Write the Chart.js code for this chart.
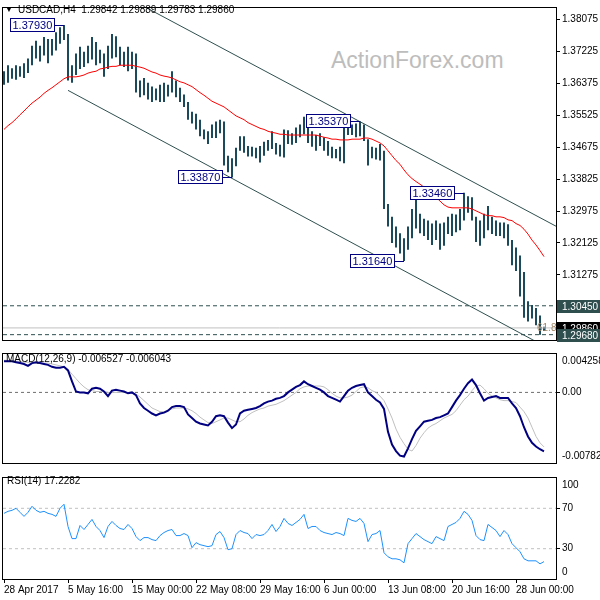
<!DOCTYPE html>
<html>
<head>
<meta charset="utf-8">
<script src="https://cdn.jsdelivr.net/npm/chart.js@4.4.1/dist/chart.umd.min.js"></script>
<style>
  body { margin: 0; background: #fff; width: 600px; height: 600px; overflow: hidden; position: relative; font-family: "Liberation Sans", Arial, sans-serif; }
  canvas { position: absolute; left: 0; z-index: 2; }
  .txt { position: absolute; font-size: 10px; line-height: 12px; color: #000; white-space: pre; z-index: 5; }
  #mark { position: absolute; left: 331px; top: 47px; font-size: 23px; color: #bdbdbd; z-index: 1; }
</style>
</head>
<body>
<div id="mark">ActionForex.com</div>
<canvas id="mainChart" width="600" height="348" style="top:0"></canvas>
<canvas id="macdChart" width="600" height="125" style="top:346px"></canvas>
<canvas id="rsiChart" width="600" height="130" style="top:470px"></canvas>
<div class="txt" style="left:5px;top:4px;font-size:8px">▼</div>
<div class="txt" style="left:18px;top:4px">USDCAD,H4  1.29842 1.29889 1.29783 1.29860</div>
<div class="txt" style="left:6px;top:353px">MACD(12,26,9) -0.006527 -0.006043</div>
<div class="txt" style="left:7px;top:475px">RSI(14) 17.2282</div>
<script>
// H4 bars (two per column)
const highs = [
  1.3670, 1.3686, 1.3678, 1.3686, 1.3683, 1.3691, 1.3704, 1.3738, 1.3751, 1.3738,
  1.3761, 1.3756, 1.3756, 1.3774, 1.3787, 1.3793, 1.3769, 1.3686, 1.3717, 1.3735,
  1.3722, 1.3738, 1.3761, 1.3748, 1.3727, 1.3717, 1.3738, 1.3769, 1.3763, 1.3735,
  1.3722, 1.3735, 1.3722, 1.3717, 1.3645, 1.3652, 1.3639, 1.3629, 1.3624, 1.3634,
  1.3639, 1.3634, 1.3670, 1.3645, 1.3626, 1.3608, 1.3588, 1.3562, 1.3557, 1.3541,
  1.3515, 1.3510, 1.3528, 1.3536, 1.3541, 1.3536, 1.3445, 1.3438, 1.3466, 1.3497,
  1.3497, 1.3471, 1.3469, 1.3466, 1.3471, 1.3482, 1.3487, 1.3510, 1.3479, 1.3474,
  1.3515, 1.3513, 1.3505, 1.3520, 1.3528, 1.3549, 1.3536, 1.3510, 1.3500, 1.3505,
  1.3494, 1.3484, 1.3469, 1.3463, 1.3469, 1.3523, 1.3533, 1.3528, 1.3531, 1.3537,
  1.3528, 1.3489, 1.3469, 1.3466, 1.3476, 1.3458, 1.3316, 1.3282, 1.3256, 1.3238,
  1.3225, 1.3256, 1.3303, 1.3329, 1.3290, 1.3277, 1.3272, 1.3264, 1.3272, 1.3264,
  1.3267, 1.3282, 1.3290, 1.3288, 1.3303, 1.3346, 1.3337, 1.3334, 1.3282, 1.3272,
  1.3290, 1.3311, 1.3282, 1.3272, 1.3267, 1.3267, 1.3262, 1.3220, 1.3200, 1.3179,
  1.3135, 1.3057, 1.3047, 1.3039, 1.3019, 1.2989
];
const lows = [
  1.3634, 1.3639, 1.3650, 1.3647, 1.3655, 1.3652, 1.3665, 1.3686, 1.3704, 1.3696,
  1.3712, 1.3691, 1.3712, 1.3725, 1.3743, 1.3753, 1.3645, 1.3639, 1.3660, 1.3676,
  1.3681, 1.3691, 1.3701, 1.3686, 1.3691, 1.3655, 1.3676, 1.3704, 1.3707, 1.3686,
  1.3681, 1.3670, 1.3676, 1.3613, 1.3601, 1.3606, 1.3595, 1.3588, 1.3593, 1.3588,
  1.3588, 1.3603, 1.3613, 1.3601, 1.3588, 1.3575, 1.3541, 1.3531, 1.3515, 1.3497,
  1.3489, 1.3476, 1.3492, 1.3492, 1.3505, 1.3419, 1.3401, 1.3387, 1.3417, 1.3458,
  1.3453, 1.3443, 1.3443, 1.3438, 1.3427, 1.3445, 1.3458, 1.3463, 1.3448, 1.3443,
  1.3440, 1.3476, 1.3474, 1.3479, 1.3494, 1.3502, 1.3479, 1.3469, 1.3458, 1.3471,
  1.3458, 1.3445, 1.3438, 1.3438, 1.3430, 1.3425, 1.3500, 1.3500, 1.3494, 1.3497,
  1.3484, 1.3419, 1.3438, 1.3435, 1.3432, 1.3303, 1.3256, 1.3212, 1.3200, 1.3184,
  1.3164, 1.3194, 1.3225, 1.3251, 1.3238, 1.3231, 1.3220, 1.3207, 1.3220, 1.3194,
  1.3205, 1.3236, 1.3231, 1.3241, 1.3246, 1.3272, 1.3293, 1.3272, 1.3215, 1.3205,
  1.3225, 1.3246, 1.3236, 1.3231, 1.3231, 1.3225, 1.3205, 1.3153, 1.3138, 1.3070,
  1.3013, 1.3003, 1.3011, 1.2993, 1.2968, 1.2978
];
// red moving average
const ma = [
  1.3515, 1.3525, 1.3533, 1.3543, 1.3554, 1.3564, 1.3575, 1.3585, 1.3593, 1.3601,
  1.3611, 1.3619, 1.3626, 1.3634, 1.3642, 1.3650, 1.3655, 1.3655, 1.3655, 1.3657,
  1.3660, 1.3665, 1.3668, 1.3670, 1.3676, 1.3678, 1.3681, 1.3683, 1.3683, 1.3686,
  1.3686, 1.3686, 1.3686, 1.3683, 1.3681, 1.3678, 1.3673, 1.3668, 1.3665, 1.3660,
  1.3657, 1.3655, 1.3652, 1.3647, 1.3642, 1.3639, 1.3634, 1.3629, 1.3621, 1.3613,
  1.3606, 1.3598, 1.3590, 1.3585, 1.3580, 1.3575, 1.3567, 1.3559, 1.3551, 1.3546,
  1.3541, 1.3533, 1.3528, 1.3523, 1.3518, 1.3515, 1.3510, 1.3507, 1.3505, 1.3502,
  1.3502, 1.3500, 1.3500, 1.3500, 1.3500, 1.3500, 1.3500, 1.3500, 1.3500, 1.3497,
  1.3494, 1.3492, 1.3489, 1.3489, 1.3487, 1.3487, 1.3487, 1.3489, 1.3489, 1.3489,
  1.3492, 1.3492, 1.3489, 1.3484, 1.3479, 1.3471, 1.3458, 1.3445, 1.3432, 1.3422,
  1.3407, 1.3394, 1.3384, 1.3376, 1.3369, 1.3361, 1.3355, 1.3345, 1.3334, 1.3324,
  1.3314, 1.3308, 1.3306, 1.3306, 1.3306, 1.3306, 1.3306, 1.3303, 1.3298, 1.3293,
  1.3288, 1.3285, 1.3285, 1.3282, 1.3282, 1.3280, 1.3274, 1.3272, 1.3264, 1.3259,
  1.3249, 1.3236, 1.3220, 1.3207, 1.3192, 1.3176
];
const macd = [
  0.00345, 0.00345, 0.00345, 0.00335, 0.00325, 0.00315, 0.00295, 0.00325, 0.00335, 0.00325,
  0.00315, 0.00305, 0.00284, 0.00274, 0.00274, 0.00284, 0.00244, 0.00122, 0.00010, 0,
  0, -0.00010, 0.00041, 0.00051, 0.00041, 0.00010, -0.00041, 0.00020, 0.00030, 0.00020,
  0.00010, -0.00010, 0, -0.00030, -0.00122, -0.00173, -0.00203, -0.00234, -0.00254, -0.00234,
  -0.00224, -0.00203, -0.00163, -0.00152, -0.00152, -0.00163, -0.00244, -0.00284, -0.00325, -0.00345,
  -0.00356, -0.00366, -0.00325, -0.00264, -0.00254, -0.00264, -0.00335, -0.00396, -0.00356, -0.00234,
  -0.00203, -0.00193, -0.00183, -0.00173, -0.00152, -0.00122, -0.00102, -0.00091, -0.00071, -0.00061,
  -0.00041, 0, 0.00030, 0.00061, 0.00081, 0.00122, 0.00091, 0.00071, 0.00051, 0.00030,
  0, -0.00041, -0.00061, -0.00081, -0.00102, -0.00041, 0.00020, 0.00051, 0.00071, 0.00081,
  0.00091, 0, -0.00041, -0.00081, -0.00112, -0.00183, -0.00437, -0.00579, -0.00650, -0.00701,
  -0.00711, -0.00620, -0.00518, -0.00427, -0.00376, -0.00325, -0.00315, -0.00305, -0.00284, -0.00274,
  -0.00254, -0.00234, -0.00163, -0.00091, -0.00030, 0.00041, 0.00102, 0.00142, 0.00081, -0.00010,
  -0.00091, -0.00061, -0.00051, -0.00041, -0.00061, -0.00061, -0.00061, -0.00122, -0.00173, -0.00264,
  -0.00386, -0.00488, -0.00559, -0.00600, -0.00630, -0.006527
];
const signal = [
  0.00356, 0.00356, 0.00345, 0.00345, 0.00345, 0.00335, 0.00335, 0.00325, 0.00325, 0.00325,
  0.00325, 0.00325, 0.00315, 0.00305, 0.00295, 0.00284, 0.00254, 0.00203, 0.00152, 0.00102,
  0.00061, 0.00030, 0.00020, 0.00010, 0.00010, 0.00010, 0, 0, 0, 0,
  0, 0, -0.00010, -0.00020, -0.00051, -0.00091, -0.00132, -0.00173, -0.00193, -0.00213,
  -0.00213, -0.00203, -0.00183, -0.00173, -0.00173, -0.00173, -0.00183, -0.00203, -0.00234, -0.00274,
  -0.00305, -0.00335, -0.00345, -0.00325, -0.00305, -0.00284, -0.00284, -0.00305, -0.00325, -0.00325,
  -0.00295, -0.00254, -0.00224, -0.00203, -0.00183, -0.00173, -0.00152, -0.00142, -0.00132, -0.00112,
  -0.00091, -0.00061, -0.00030, 0, 0.00041, 0.00061, 0.00071, 0.00071, 0.00071, 0.00071,
  0.00061, 0.00030, -0.00010, -0.00041, -0.00061, -0.00061, -0.00051, -0.00030, 0.00010, 0.00051,
  0.00061, 0.00051, 0.00020, 0, -0.00041, -0.00091, -0.00183, -0.00284, -0.00406, -0.00498,
  -0.00569, -0.00630, -0.00650, -0.00589, -0.00508, -0.00447, -0.00396, -0.00366, -0.00345, -0.00315,
  -0.00284, -0.00264, -0.00244, -0.00203, -0.00142, -0.00081, -0.00041, 0.00020, 0.00071, 0.00081,
  0.00041, -0.00010, -0.00041, -0.00061, -0.00081, -0.00091, -0.00091, -0.00102, -0.00112, -0.00163,
  -0.00213, -0.00284, -0.00386, -0.00488, -0.00559, -0.006043
];
const rsi = [
  65, 67, 68, 70, 66, 62, 66, 72, 68, 66,
  67, 65, 64, 62, 70, 74, 52, 40, 40, 53,
  49, 54, 59, 52, 48, 41, 52, 57, 53, 50,
  49, 54, 50, 42, 38, 41, 41, 39, 38, 43,
  46, 48, 49, 43, 43, 45, 43, 31, 36, 34,
  33, 32, 33, 44, 47, 41, 29, 30, 44, 48,
  46, 45, 40, 44, 43, 44, 48, 54, 47, 52,
  60, 55, 53, 56, 59, 64, 50, 52, 52, 48,
  46, 45, 44, 46, 45, 43, 60, 58, 57, 60,
  55, 37, 44, 45, 48, 26, 22, 20, 20, 19,
  16, 35, 40, 45, 42, 39, 37, 35, 42, 40,
  38, 52, 54, 56, 60, 67, 64, 58, 43, 39,
  38, 54, 51, 48, 42, 48, 44, 35, 31, 27,
  20, 18, 18, 18, 15, 17.2282
];

const xTickIdx = [0, 16, 32, 48, 64, 80, 96, 112, 128];
const xTickText = ['28 Apr 2017', '5 May 16:00', '15 May 00:00', '22 May 08:00', '29 May 16:00',
  '6 Jun 00:00', '13 Jun 08:00', '20 Jun 16:00', '28 Jun 00:00'];
const priceTicks = [1.38075, 1.37225, 1.36375, 1.35525, 1.34675, 1.33825, 1.32975, 1.32125, 1.31275];

// swing labels
const pivotIdx = [15, 89, 57, 115, 100];
const pivotPrice = [1.37930, 1.35370, 1.33870, 1.33460, 1.31640];

// channel lines: [start, end] index and price
const upperIdx = [30, 138], upperPrice = [1.3871, 1.3257];
const lowerIdx = [16, 138], lowerPrice = [1.3619, 1.2921];
const dashLevels = [1.30450, 1.29680];
const fibLevel = 1.29860;
const closePrice = 1.29860;

const macdRange = [-0.007827, 0.004258];
const rsiLevels = [70, 30];

const xMin = -0.25, xMax = 138;
const fnt = { family: '"Liberation Sans", Arial, sans-serif', size: 10 };
const FONT = '10px "Liberation Sans", Arial, sans-serif';

function level(v, color, dash) {
  return { type: 'line', data: [{ x: xMin, y: v }, { x: xMax, y: v }], borderColor: color, borderWidth: 1,
    borderDash: dash, pointRadius: 0, clip: 0, order: 1 };
}

function xAxis(show) {
  const axis = {
    type: 'linear', min: xMin, max: xMax, offset: false, display: show,
    grid: { drawOnChartArea: false, tickLength: 4, color: '#000', offset: false },
    border: { display: false },
    afterBuildTicks: s => { s.ticks = xTickIdx.map(v => ({ value: v })); },
    ticks: { align: 'start', autoSkip: false, maxRotation: 0, padding: 1, color: '#000', font: fnt,
      callback: v => xTickText[xTickIdx.indexOf(v)] }
  };
  axis.afterFit = s => { s.height = show ? 21 : 0; };
  return axis;
}

function yAxis(min, max, ticks, fmt) {
  return {
    type: 'linear', position: 'right', min: min, max: max,
    grid: { drawOnChartArea: false, tickLength: 4, color: '#000' },
    border: { display: false },
    afterBuildTicks: s => { s.ticks = ticks.map(v => ({ value: v })); },
    afterFit: s => { s.width = 44; },
    ticks: { autoSkip: false, padding: 2, color: '#000', font: fnt, callback: fmt }
  };
}

const frame = {
  id: 'frame',
  afterDraw(chart) {
    const a = chart.chartArea, ctx = chart.ctx;
    ctx.save();
    ctx.strokeStyle = '#000';
    ctx.lineWidth = 1;
    ctx.strokeRect(Math.round(a.left) - 0.5, Math.round(a.top) - 0.5,
      Math.round(a.right - a.left) + 1, Math.round(a.bottom - a.top) + 1);
    ctx.restore();
  }
};

const edgeLabels = {
  id: 'edgeLabels',
  afterDraw(chart, args, opts) {
    const s = chart.scales.y, ctx = chart.ctx;
    ctx.save();
    ctx.font = FONT;
    ctx.fillStyle = '#000';
    (opts.items || []).forEach(it => {
      ctx.textBaseline = it.top ? 'top' : 'bottom';
      ctx.fillText(it.text, chart.chartArea.right + 6, s.getPixelForValue(it.value) + (it.top ? 2 : -2));
    });
    ctx.restore();
  }
};

const priceMarks = {
  id: 'priceMarks',
  afterDatasetsDraw(chart) {
    const x = chart.scales.x, y = chart.scales.y, ctx = chart.ctx, a = chart.chartArea;
    ctx.save();
    // swing high / low boxes
    ctx.font = '11px "Liberation Sans", Arial, sans-serif';
    ctx.textBaseline = 'middle';
    ctx.lineWidth = 1;
    pivotIdx.forEach((idx, k) => {
      const px = x.getPixelForValue(idx);
      const py = Math.round(y.getPixelForValue(pivotPrice[k])) + 0.5;
      const t = pivotPrice[k].toFixed(5);
      const w = Math.ceil(ctx.measureText(t).width) + 4;
      const right = Math.round(px) - 10;
      ctx.strokeStyle = '#000080';
      ctx.beginPath(); ctx.moveTo(right, py); ctx.lineTo(px, py); ctx.stroke();
      ctx.fillStyle = '#fff';
      ctx.fillRect(right - w, py - 7, w, 13);
      ctx.strokeRect(right - w + 0.5, py - 7, w, 13);
      ctx.fillStyle = '#000080';
      ctx.fillText(t, right - w + 2.5, py);
    });
    // fib level text
    ctx.font = FONT;
    ctx.fillStyle = '#a08868';
    ctx.fillText('61.8', a.right - 19, y.getPixelForValue(fibLevel));
    ctx.restore();
  },
  afterDraw(chart) {
    const y = chart.scales.y, a = chart.chartArea, ctx = chart.ctx;
    ctx.save();
    ctx.font = FONT;
    ctx.textBaseline = 'middle';
    const tags = [[closePrice, '#000000']].concat(dashLevels.map(v => [v, '#2f4f4f']));
    tags.forEach(([p, col]) => {
      const py = Math.round(y.getPixelForValue(p));
      ctx.fillStyle = col;
      ctx.fillRect(a.right + 1, py - 6, 44, 13);
      ctx.fillStyle = '#fff';
      ctx.fillText(p.toFixed(5), a.right + 6, py + 1);
    });
    ctx.restore();
  }
};

const common = {
  responsive: false, animation: false, devicePixelRatio: 1, events: [],
  plugins: { legend: { display: false }, tooltip: { enabled: false } }
};

new Chart(document.getElementById('mainChart'), {
  type: 'bar',
  data: {
    datasets: [
      { type: 'line', data: ma.map((v, i) => ({ x: i, y: v })), borderColor: '#ff0000', borderWidth: 1,
        pointRadius: 0, tension: 0, clip: 0, order: 0 },
      { type: 'line', data: upperIdx.map((v, i) => ({ x: v, y: upperPrice[i] })), borderColor: '#2f4f4f',
        borderWidth: 1, pointRadius: 0, clip: 0, order: 1 },
      { type: 'line', data: lowerIdx.map((v, i) => ({ x: v, y: lowerPrice[i] })), borderColor: '#2f4f4f',
        borderWidth: 1, pointRadius: 0, clip: 0, order: 1 },
      level(dashLevels[0], '#2f4f4f', [4, 3]),
      level(dashLevels[1], '#2f4f4f', [4, 3]),
      level(fibLevel, '#c0c0c0', []),
      { type: 'bar', data: highs.map((h, i) => ({ x: i, y: [lows[i], h] })), backgroundColor: '#1b4a5c',
        barThickness: 2, inflateAmount: 0, borderWidth: 0, order: 3 }
    ]
  },
  options: Object.assign({}, common, {
    layout: { padding: { left: 3, top: 3, bottom: 3, right: 0 } },
    scales: {
      x: xAxis(false),
      y: yAxis(1.29538, 1.38385, priceTicks, v => v.toFixed(5))
    }
  }),
  plugins: [frame, priceMarks]
});

new Chart(document.getElementById('macdChart'), {
  type: 'line',
  data: {
    datasets: [
      { data: macd.map((v, i) => ({ x: i, y: v })), borderColor: '#000080', borderWidth: 2, pointRadius: 0, clip: 0, order: 0 },
      { data: signal.map((v, i) => ({ x: i, y: v })), borderColor: '#c0c0c0', borderWidth: 1, pointRadius: 0, clip: 0, order: 1 },
      level(0, '#707070', [3, 3])
    ]
  },
  options: Object.assign({}, common, {
    layout: { padding: { left: 3, top: 3, bottom: 3, right: 0 } },
    scales: {
      x: xAxis(false),
      y: yAxis(macdRange[0], macdRange[1], [0], () => '0.00')
    },
    plugins: Object.assign({}, common.plugins, {
      edgeLabels: { items: [
        { value: macdRange[1], text: macdRange[1].toFixed(6), top: true },
        { value: macdRange[0], text: macdRange[0].toFixed(6), top: false }
      ] }
    })
  }),
  plugins: [frame, edgeLabels]
});

new Chart(document.getElementById('rsiChart'), {
  type: 'line',
  data: {
    datasets: [
      { data: rsi.map((v, i) => ({ x: i, y: v })), borderColor: '#1e90ff', borderWidth: 1, pointRadius: 0, clip: 0, order: 0 },
      level(rsiLevels[0], '#c0c0c0', [3, 3]),
      level(rsiLevels[1], '#c0c0c0', [3, 3])
    ]
  },
  options: Object.assign({}, common, {
    layout: { padding: { left: 3, top: 3, bottom: 0, right: 0 } },
    scales: {
      x: xAxis(true),
      y: yAxis(0, 100, rsiLevels, v => String(v))
    },
    plugins: Object.assign({}, common.plugins, {
      edgeLabels: { items: [
        { value: 100, text: '100', top: true },
        { value: 0, text: '0', top: false }
      ] }
    })
  }),
  plugins: [frame, edgeLabels]
});
</script>
</body>
</html>
